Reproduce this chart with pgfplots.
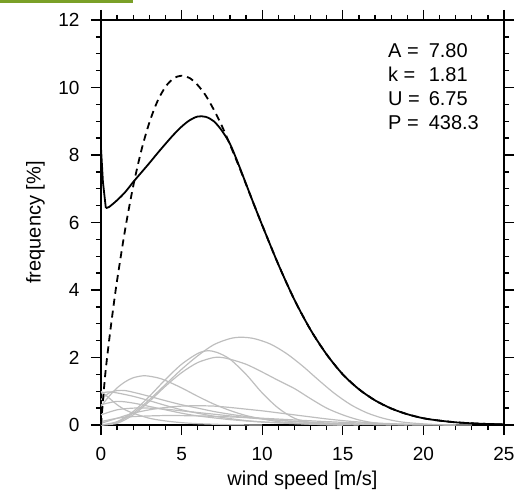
\documentclass[border=0pt]{standalone}
\usepackage{pgfplots}
\pgfplotsset{compat=1.18}
\usepackage{fontspec}
\setmainfont{Liberation Sans}
\definecolor{curvegray}{RGB}{190,190,190}
\definecolor{topgreen}{RGB}{122,160,40}
\begin{document}
\begin{tikzpicture}
\begin{axis}[
  name=ax,
  scale only axis, width=403pt, height=405pt,
  xmin=0, xmax=25, ymin=0, ymax=12,
  xtick={0,5,...,25}, ytick={0,2,...,12},
  minor x tick num=4, minor y tick num=3,
  tick align=outside,
  major tick length=10pt, minor tick length=5pt,
  every tick/.append style={black, line width=1.3pt},
  axis line style={line width=1.8pt},
  tick label style={font=\fontsize{19}{22}\selectfont},
  xticklabel style={yshift=-9pt},
  yticklabel style={xshift=-8pt},
  /pgf/number format/assume math mode=true,
  xlabel={wind speed [m/s]}, ylabel={frequency [\%]},
  xlabel style={font=\fontsize{20}{24}\selectfont, at={(axis description cs:0.5,0)}, anchor=north, inner sep=0pt, yshift=-46pt},
  ylabel style={font=\fontsize{20}{24}\selectfont, at={(axis description cs:0,0.5)}, anchor=south, inner sep=0pt, yshift=56pt},
]
% gray component curves
\addplot[curvegray, line width=1.2pt, smooth] coordinates {(0,0) (1,0.08) (2,0.35) (3,0.75) (4,1.2) (5,1.65) (6,2.05) (7,2.38) (8,2.56) (8.7,2.6) (9.5,2.56) (10.5,2.4) (11.5,2.12) (12.5,1.75) (13.5,1.33) (14.5,0.93) (15.5,0.6) (16.5,0.36) (17.5,0.2) (18.5,0.1) (19.5,0.05) (21,0.01) (23,0)};
\addplot[curvegray, line width=1.2pt, smooth] coordinates {(0,0) (1,0.1) (2,0.4) (3,0.85) (4,1.35) (5,1.8) (6,2.12) (6.6,2.2) (7.2,2.15) (8,1.95) (9,1.5) (10,0.95) (11,0.5) (12,0.2) (13,0.07) (14,0.02) (15,0)};
\addplot[curvegray, line width=1.2pt, smooth] coordinates {(0,0) (1,0.05) (2,0.3) (3,0.7) (4,1.15) (5,1.55) (6,1.85) (7,2.0) (7.5,2.0) (8,1.95) (9,1.8) (10,1.57) (11,1.32) (12,1.08) (13,0.78) (14,0.5) (15,0.3) (16,0.15) (17,0.06) (18,0.02) (19,0)};
\addplot[curvegray, line width=1.2pt, smooth] coordinates {(0,0.55) (0.5,0.85) (1,1.1) (1.5,1.28) (2,1.4) (2.7,1.46) (3.5,1.4) (4,1.32) (5,1.1) (6,0.85) (7,0.62) (8,0.43) (9,0.28) (10,0.18) (11,0.1) (12,0.06) (13,0.03) (14,0.01) (15,0)};
\addplot[curvegray, line width=1.2pt, smooth] coordinates {(0,0.75) (0.5,0.95) (1,1.02) (1.5,1.02) (2,0.97) (3,0.85) (4,0.72) (5,0.6) (6,0.5) (7,0.4) (8,0.32) (9,0.25) (10,0.19) (11,0.14) (12,0.1) (14,0.05) (16,0.02) (18,0)};
\addplot[curvegray, line width=1.2pt, smooth] coordinates {(0,0.95) (0.5,0.98) (1,0.95) (2,0.85) (3,0.72) (4,0.58) (5,0.45) (6,0.35) (7,0.26) (8,0.19) (9,0.13) (10,0.09) (12,0.04) (14,0.01) (15,0)};
\addplot[curvegray, line width=1.2pt, smooth] coordinates {(0,1.0) (0.5,0.8) (1,0.6) (1.5,0.45) (2,0.35) (3,0.2) (4,0.12) (5,0.07) (6,0.04) (8,0.01) (10,0)};
\addplot[curvegray, line width=1.2pt, smooth] coordinates {(0,0.05) (1,0.2) (2,0.35) (3,0.45) (4,0.52) (5,0.56) (6,0.57) (7,0.56) (8,0.52) (9,0.47) (10,0.42) (11,0.36) (12,0.3) (13,0.24) (14,0.18) (15,0.13) (16,0.09) (17,0.06) (18,0.04) (20,0.01) (22,0)};
\addplot[curvegray, line width=1.2pt, smooth] coordinates {(0,0.3) (1,0.45) (2,0.5) (3,0.5) (4,0.47) (5,0.42) (6,0.37) (7,0.32) (8,0.27) (9,0.22) (10,0.18) (12,0.11) (14,0.06) (16,0.03) (18,0.01) (20,0)};
\addplot[curvegray, line width=1.2pt, smooth] coordinates {(0,0.1) (1,0.2) (2,0.25) (4,0.28) (6,0.27) (8,0.24) (10,0.2) (12,0.15) (14,0.1) (16,0.06) (18,0.03) (20,0.01) (22,0)};
\addplot[curvegray, line width=1.2pt, smooth] coordinates {(0,0.6) (1,0.7) (2,0.65) (3,0.55) (4,0.45) (5,0.35) (6,0.27) (8,0.16) (10,0.09) (12,0.05) (14,0.02) (16,0)};
% Weibull fit (dashed)
\addplot[black, line width=1.8pt, dash pattern=on 7pt off 5pt, smooth] coordinates {(0,0) (0.25,1.43) (0.5,2.49) (0.75,3.43) (1,4.29) (1.5,5.80) (2,7.08) (2.5,8.13) (3,8.96) (3.5,9.59) (4,10.02) (4.5,10.27) (5,10.35) (5.5,10.28) (6,10.07) (6.5,9.76) (7,9.34) (7.5,8.86) (8,8.31) (8.5,7.73) (9,7.13) (9.5,6.52) (10,5.92) (11,4.76) (12,3.71) (13,2.82) (14,2.09) (15,1.50) (16,1.06) (17,0.73) (18,0.49) (19,0.32) (20,0.20) (21,0.13) (22,0.08) (23,0.05) (24,0.03) (25,0.02)};
% observed distribution (solid)
\addplot[black, line width=1.8pt] coordinates {(0,8.2) (0.12,7.2) (0.3,6.43)};
\addplot[black, line width=1.8pt, smooth] coordinates {(0.3,6.43) (0.5,6.46) (1,6.66) (1.5,6.9) (2,7.2) (2.5,7.48) (3,7.76) (3.5,8.05) (4,8.33) (4.5,8.6) (5,8.84) (5.5,9.03) (6,9.14) (6.5,9.13) (7,9.0) (7.5,8.72) (8,8.33) (8.5,7.76) (9,7.14) (9.5,6.52) (10,5.92) (11,4.76) (12,3.71) (13,2.82) (14,2.09) (15,1.50) (16,1.06) (17,0.73) (18,0.49) (19,0.32) (20,0.20) (21,0.13) (22,0.08) (23,0.05) (24,0.03) (25,0.02)};
\node[anchor=north west, inner sep=0pt, font=\fontsize{20}{24}\selectfont] at (axis cs:17.8,11.39) {\begin{tabular}{@{}l@{\hspace{9pt}}l@{}}A = & 7.80\\ k = & 1.81\\ U = & 6.75\\ P = & 438.3\end{tabular}};
\end{axis}
\fill[topgreen] ([shift={(-101pt,425pt)}]ax.south west) rectangle ([shift={(32pt,422pt)}]ax.south west);
\pgfresetboundingbox
\useasboundingbox ([shift={(-101pt,-68pt)}]ax.south west) rectangle ([shift={(416pt,425pt)}]ax.south west);
\end{tikzpicture}
\end{document}
